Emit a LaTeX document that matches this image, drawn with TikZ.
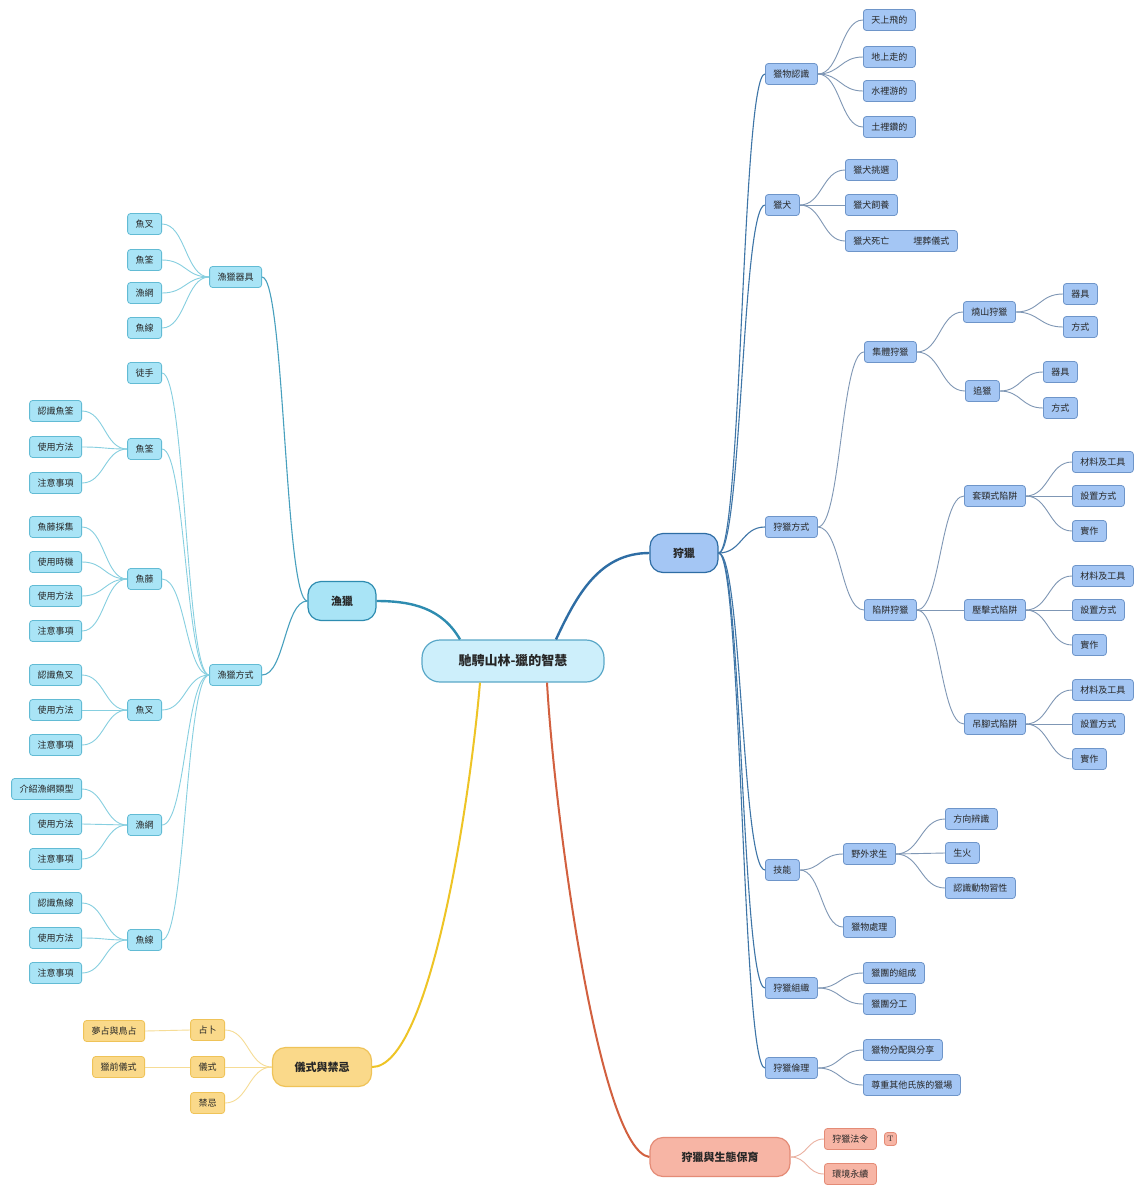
\documentclass[tikz,border=0pt]{standalone}
\usepackage{fontspec}
\usetikzlibrary{calc}
\newfontfamily\cjk{Noto Sans CJK TC}
\definecolor{rfill}{HTML}{A4C6F4}
\definecolor{rdraw}{HTML}{6E95C9}
\definecolor{rline}{HTML}{7F97B5}
\definecolor{rmain}{HTML}{2E6DA4}
\definecolor{lfill}{HTML}{A9E4F6}
\definecolor{ldraw}{HTML}{62BBD4}
\definecolor{lline}{HTML}{86CFE0}
\definecolor{lmain}{HTML}{2E8CB0}
\definecolor{yfill}{HTML}{FAD98A}
\definecolor{ydraw}{HTML}{EFC358}
\definecolor{yline}{HTML}{F6DC95}
\definecolor{ymain}{HTML}{EEC425}
\definecolor{sfill}{HTML}{F7B5A5}
\definecolor{sdraw}{HTML}{E48B76}
\definecolor{sline}{HTML}{EBB2A2}
\definecolor{smain}{HTML}{D2603F}
\definecolor{cfill}{HTML}{CDEFFB}
\definecolor{cdraw}{HTML}{5AA8C8}
\tikzset{
  leaf/.style={rounded corners=3pt, line width=0.8pt, font=\cjk\fontsize{9}{10}\selectfont, inner xsep=8pt, inner ysep=0pt, minimum height=21pt, text=black!85},
  rn/.style={leaf, draw=rdraw, fill=rfill},
  ln/.style={leaf, draw=ldraw, fill=lfill},
  yn/.style={leaf, draw=ydraw, fill=yfill},
  sn/.style={leaf, draw=sdraw, fill=sfill},
  mainbox/.style={rounded corners=13pt, line width=1.2pt, font=\cjk\fontsize{11}{12}\selectfont\bfseries, inner xsep=8pt, minimum height=39pt, text=black!85},
  conn/.style={to path={let \p1=(\tikztostart), \p2=(\tikztotarget) in
     .. controls ({(\x1+\x2)/2},\y1) and ({(\x1+\x2)/2},\y2) .. (\tikztotarget)}},
  rl/.style={draw=rline, line width=0.9pt, conn},
  ll/.style={draw=lline, line width=0.9pt, conn},
  yl/.style={draw=yline, line width=0.9pt, conn},
  sl/.style={draw=sline, line width=0.9pt, conn},
}
\begin{document}
\begin{tikzpicture}[x=1pt,y=-1pt]
\useasboundingbox[fill=white] (0,0) rectangle (1135,1189);

% ---------- main nodes
\node[rounded corners=18pt, line width=1.2pt, draw=cdraw, fill=cfill, font=\cjk\fontsize{13}{14}\selectfont\bfseries, minimum width=182pt, minimum height=42pt, text=black!85] (c) at (513,661) {馳騁山林-獵的智慧};
\node[mainbox, draw=rmain, fill=rfill, minimum width=68pt] (hunt) at (684,553) {狩獵};
\node[mainbox, draw=lmain, fill=lfill, minimum width=68pt] (fish) at (342,601) {漁獵};
\node[mainbox, draw=ydraw, fill=yfill, minimum width=99pt] (rit) at (322,1067) {儀式與禁忌};
\node[mainbox, draw=sdraw, fill=sfill, minimum width=140pt] (eco) at (720,1157) {狩獵與生態保育};

\draw[draw=rmain, line width=2.4pt] ([xshift=43pt]c.north) to[out=65,in=180] (hunt.west);
\draw[draw=lmain, line width=2.4pt] ([xshift=-53pt]c.north) to[out=120,in=0] (fish.east);
\draw[draw=ymain, line width=2pt] ([xshift=-33pt]c.south) .. controls +(-10,118) and +(58,0) .. (rit.east);
\draw[draw=smain, line width=2pt] ([xshift=34pt]c.south) .. controls +(8,138) and +(-50,-7) .. (eco.west);

% ---------- right: 狩獵
\node[rn, anchor=west] (hw) at (765,74) {獵物認識};
\node[rn, anchor=west] (dog) at (765,205) {獵犬};
\node[rn, anchor=west] (way) at (765,527) {狩獵方式};
\node[rn, anchor=west] (skill) at (765,870) {技能};
\node[rn, anchor=west] (org) at (765,988) {狩獵組織};
\node[rn, anchor=west] (eth) at (765,1068) {狩獵倫理};
\foreach \nd in {hw,dog,way,skill,org,eth}
  \draw[draw=rmain!80!rline, line width=1.1pt, conn] (hunt.east) to (\nd.west);

\node[rn, anchor=west] (hw1) at (863,20) {天上飛的};
\node[rn, anchor=west] (hw2) at (863,57) {地上走的};
\node[rn, anchor=west] (hw3) at (863,91) {水裡游的};
\node[rn, anchor=west] (hw4) at (863,127) {土裡鑽的};
\foreach \nd in {hw1,hw2,hw3,hw4} \draw[rl] (hw.east) to (\nd.west);

\node[rn, anchor=west] (dog1) at (845,170) {獵犬挑選};
\node[rn, anchor=west] (dog2) at (845,205) {獵犬飼養};
\node[rn, anchor=west] (dog3) at (845,241) {獵犬死亡\hspace{24pt}埋葬儀式};
\foreach \nd in {dog1,dog2,dog3} \draw[rl] (dog.east) to (\nd.west);

\node[rn, anchor=west] (grp) at (864,352) {集體狩獵};
\node[rn, anchor=west] (trap) at (864,610) {陷阱狩獵};
\foreach \nd in {grp,trap} \draw[rl] (way.east) to (\nd.west);

\node[rn, anchor=west] (burn) at (963,312) {燒山狩獵};
\node[rn, anchor=west] (chase) at (965,391) {追獵};
\foreach \nd in {burn,chase} \draw[rl] (grp.east) to (\nd.west);
\node[rn, anchor=west] (burn1) at (1063,294) {器具};
\node[rn, anchor=west] (burn2) at (1063,327) {方式};
\foreach \nd in {burn1,burn2} \draw[rl] (burn.east) to (\nd.west);
\node[rn, anchor=west] (chase1) at (1043,372) {器具};
\node[rn, anchor=west] (chase2) at (1043,408) {方式};
\foreach \nd in {chase1,chase2} \draw[rl] (chase.east) to (\nd.west);

\node[rn, anchor=west] (ta) at (964,496) {套頸式陷阱};
\node[rn, anchor=west] (tb) at (964,610) {壓擊式陷阱};
\node[rn, anchor=west] (tc) at (964,724) {吊腳式陷阱};
\foreach \nd in {ta,tb,tc} \draw[rl] (trap.east) to (\nd.west);
\foreach \tr/\yy in {ta/496,tb/610,tc/724}{
  \node[rn, anchor=west] (\tr1) at (1072,\yy-34) {材料及工具};
  \node[rn, anchor=west] (\tr2) at (1072,\yy) {設置方式};
  \node[rn, anchor=west] (\tr3) at (1072,\yy+35) {實作};
  \foreach \k in {1,2,3} \draw[rl] (\tr.east) to (\tr\k.west);
}

\node[rn, anchor=west] (wild) at (843,854) {野外求生};
\node[rn, anchor=west] (proc) at (843,927) {獵物處理};
\foreach \nd in {wild,proc} \draw[rl] (skill.east) to (\nd.west);
\node[rn, anchor=west] (wild1) at (945,819) {方向辨識};
\node[rn, anchor=west] (wild2) at (945,853) {生火};
\node[rn, anchor=west] (wild3) at (945,888) {認識動物習性};
\foreach \nd in {wild1,wild2,wild3} \draw[rl] (wild.east) to (\nd.west);

\node[rn, anchor=west] (org1) at (863,973) {獵團的組成};
\node[rn, anchor=west] (org2) at (863,1004) {獵團分工};
\foreach \nd in {org1,org2} \draw[rl] (org.east) to (\nd.west);

\node[rn, anchor=west] (eth1) at (863,1050) {獵物分配與分享};
\node[rn, anchor=west] (eth2) at (863,1085) {尊重其他氏族的獵場};
\foreach \nd in {eth1,eth2} \draw[rl] (eth.east) to (\nd.west);

% ---------- bottom: 生態保育
\node[sn, anchor=west] (law) at (824,1139) {狩獵法令};
\node[sn, anchor=west] (env) at (824,1174) {環境永續};
\node[sn, anchor=west, inner xsep=3pt, minimum height=13pt, font=\fontsize{8}{8}\selectfont] (note) at (884,1139) {T};
\foreach \nd in {law,env} \draw[sl] (eco.east) to (\nd.west);

% ---------- left: 漁獵
\node[ln, anchor=east] (tool) at (262,277) {漁獵器具};
\node[ln, anchor=east] (meth) at (262,675) {漁獵方式};
\foreach \nd in {tool,meth} \draw[draw=lmain!70!lline, line width=1.1pt, conn] (fish.west) to (\nd.east);

\foreach \nd/\yy/\tx in {t1/224/魚叉, t2/260/魚筌, t3/293/漁網, t4/328/魚線}{
  \node[ln, anchor=east] (\nd) at (162,\yy) {\tx};
  \draw[ll] (tool.west) to (\nd.east);
}

\foreach \nd/\yy/\tx in {m0/373/徒手, m1/449/魚筌, m2/579/魚藤, m3/710/魚叉, m4/825/漁網, m5/940/魚線}{
  \node[ln, anchor=east] (\nd) at (162,\yy) {\tx};
  \draw[ll] (meth.west) to (\nd.east);
}

\foreach \nd/\yy/\tx in {a1/411/認識魚筌, a2/447/使用方法, a3/483/注意事項}{
  \node[ln, anchor=east] (\nd) at (82,\yy) {\tx};
  \draw[ll] (m1.west) to (\nd.east);
}
\foreach \nd/\yy/\tx in {b1/527/魚藤採集, b2/562/使用時機, b3/596/使用方法, b4/631/注意事項}{
  \node[ln, anchor=east] (\nd) at (82,\yy) {\tx};
  \draw[ll] (m2.west) to (\nd.east);
}
\foreach \nd/\yy/\tx in {d1/675/認識魚叉, d2/710/使用方法, d3/745/注意事項}{
  \node[ln, anchor=east] (\nd) at (82,\yy) {\tx};
  \draw[ll] (m3.west) to (\nd.east);
}
\foreach \nd/\yy/\tx in {e1/789/介紹漁網類型, e2/824/使用方法, e3/859/注意事項}{
  \node[ln, anchor=east] (\nd) at (82,\yy) {\tx};
  \draw[ll] (m4.west) to (\nd.east);
}
\foreach \nd/\yy/\tx in {f1/903/認識魚線, f2/938/使用方法, f3/973/注意事項}{
  \node[ln, anchor=east] (\nd) at (82,\yy) {\tx};
  \draw[ll] (m5.west) to (\nd.east);
}

% ---------- bottom-left: 儀式與禁忌
\node[yn, anchor=east] (div) at (225,1030) {占卜};
\node[yn, anchor=east] (cer) at (225,1067) {儀式};
\node[yn, anchor=east] (tab) at (225,1103) {禁忌};
\foreach \nd in {div,cer,tab} \draw[yl] (rit.west) to (\nd.east);
\node[yn, anchor=east] (div1) at (145,1031) {夢占與鳥占};
\node[yn, anchor=east] (cer1) at (145,1067) {獵前儀式};
\draw[yl] (div.west) to (div1.east);
\draw[yl] (cer.west) to (cer1.east);
\end{tikzpicture}
\end{document}
